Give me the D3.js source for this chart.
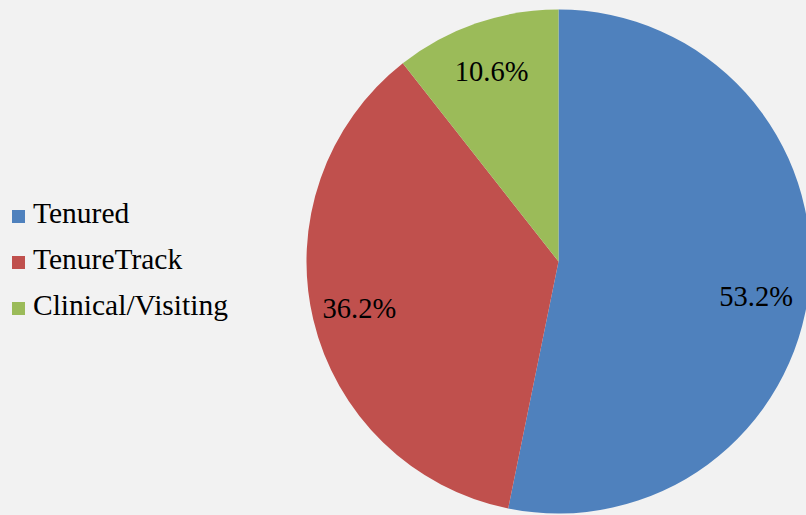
<!DOCTYPE html>
<html>
<head>
<meta charset="utf-8">
<script src="https://cdn.jsdelivr.net/npm/d3@7"></script>
<style>
  html, body { margin: 0; padding: 0; background: #f2f2f2; }
  svg { display: block; }
  text { font-family: "Liberation Serif", "Times New Roman", serif; fill: #000; }
</style>
</head>
<body>
<svg id="chart" width="806" height="515"></svg>
<script>
const categories = ["Tenured", "TenureTrack", "Clinical/Visiting"];
const values = [53.2, 36.2, 10.6];
const labels = ["53.2%", "36.2%", "10.6%"];
const colors = ["#4f81bd", "#c0504d", "#9bbb59"];

const svg = d3.select("#chart");
const W = 806, H = 515;
svg.append("rect").attr("width", W).attr("height", H).attr("fill", "#f2f2f2");

const cx = 558.5, cy = 261.5, R = 252;
const data = categories.map((c, i) => ({ name: c, value: values[i], label: labels[i], color: colors[i] }));

const pie = d3.pie().value(d => d.value).sort(null);
const arcs = pie(data);
const arc = d3.arc().innerRadius(0).outerRadius(R);
const labelArc = d3.arc().innerRadius(R * 0.8).outerRadius(R * 0.8);
const labelNudge = [[-3, 14], [-3, 0], [-1, 0]];

const g = svg.append("g").attr("transform", `translate(${cx},${cy})`);
g.selectAll("path").data(arcs).join("path")
  .attr("d", arc)
  .attr("fill", d => d.data.color);

g.selectAll("text.lbl").data(arcs).join("text")
  .attr("class", "lbl")
  .attr("transform", (d, i) => {
    const [x, y] = labelArc.centroid(d);
    return `translate(${x + labelNudge[i][0]},${y + labelNudge[i][1]})`;
  })
  .attr("text-anchor", "middle")
  .attr("dy", "0.35em")
  .style("font-size", "28.5px")
  .text(d => d.data.label);

const legend = svg.append("g").attr("transform", "translate(12,223)");
const rowGap = 46;
const items = legend.selectAll("g").data(data).join("g")
  .attr("transform", (d, i) => `translate(0,${i * rowGap})`);
items.append("rect")
  .attr("x", 0).attr("y", -13)
  .attr("width", 13).attr("height", 13)
  .attr("fill", d => d.color);
items.append("text")
  .attr("x", 21).attr("y", 0)
  .style("font-size", "29.5px")
  .text(d => d.name);
</script>
</body>
</html>
